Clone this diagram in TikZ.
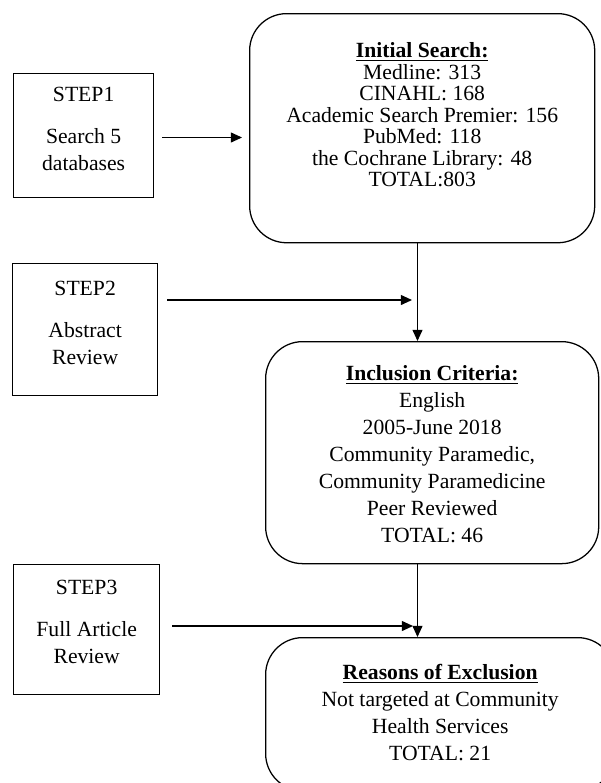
\documentclass[tikz,border=0pt]{standalone}
\usepackage{fontspec}
\setmainfont{Liberation Serif}
\usetikzlibrary{arrows.meta}

\newlength\headwd
\newcommand{\headline}[1]{\settowidth{\headwd}{\textbf{#1}}\textbf{#1}\hspace{-\headwd}\rule[-2.6pt]{\headwd}{1.2pt}}

\tikzset{
  stepbox/.style={draw, line width=0.9pt, inner xsep=0pt, inner ysep=0pt, align=center,
    anchor=north west, font=\fontsize{15.4pt}{19.2pt}\selectfont},
  roundbox/.style={stepbox, rounded corners=0.925cm},
  arr/.style={line width=0.9pt, -{Triangle[length=0.28cm,width=0.25cm]}}
}

\begin{document}
\begin{tikzpicture}[x=0.025cm, y=-0.025cm]
\useasboundingbox (0,0) rectangle (600,783);
\node[stepbox, minimum width=3.5cm] (step1) at (13,73) {\rule{0pt}{0.7cm}STEP1\\[0.375cm] Search 5\\ databases\rule[-0.675cm]{0pt}{0.675cm}}; % STEP1
\node[stepbox, minimum width=3.625cm] (step2) at (12,263) {\rule{0pt}{0.8cm}STEP2\\[0.375cm] Abstract\\ Review\rule[-0.775cm]{0pt}{0.775cm}}; % STEP2
\node[stepbox, minimum width=3.65cm] (step3) at (13,564) {\rule{0pt}{0.75cm}STEP3\\[0.375cm] Full Article\\ Review\rule[-0.775cm]{0pt}{0.775cm}}; % STEP3
\node[roundbox, minimum width=8.625cm, font=\fontsize{15.4pt}{15.3pt}\selectfont] (init) at (249,13) {\rule{0pt}{1.1cm}\headline{Initial Search:}\\ Medline: 313\\ CINAHL: 168\\ Academic Search Premier: 156\\ PubMed: 118\\ the Cochrane Library: 48\\ TOTAL:803\rule[-1.4cm]{0pt}{1.4cm}}; % Initial
\node[roundbox, minimum width=8.325cm] (incl) at (265,341) {\rule{0pt}{0.975cm}\headline{Inclusion Criteria:}\\ English\\ 2005-June 2018\\ Community Paramedic,\\ Community Paramedicine\\ Peer Reviewed\\ TOTAL: 46\rule[-0.525cm]{0pt}{0.525cm}}; % Inclusion
\node[roundbox, minimum width=8.725cm] (reas) at (265,637) {\rule{0pt}{1.05cm}\headline{Reasons of Exclusion}\\ Not targeted at Community\\ Health Services\\ TOTAL: 21\rule[-0.75cm]{0pt}{0.75cm}}; % Exclusion
\coordinate (vline) at (417.5,0);
\coordinate (s1out) at (162,137.5);
\coordinate (s2out) at (167,300);
\coordinate (s3out) at (172,626);
\draw[arr, shorten >=0.175cm] (s1out) -- (s1out -| init.west); % step1 to init
\draw[arr] (init.south -| vline) -- (incl.north -| vline); % init to incl
\draw[arr, shorten >=0.1375cm] (s2out) -- (s2out -| vline); % step2
\draw[arr] (incl.south -| vline) -- (reas.north -| vline); % incl to reas
\draw[arr, shorten >=0.1125cm] (s3out) -- (s3out -| vline); % step3
\end{tikzpicture}
\end{document}
